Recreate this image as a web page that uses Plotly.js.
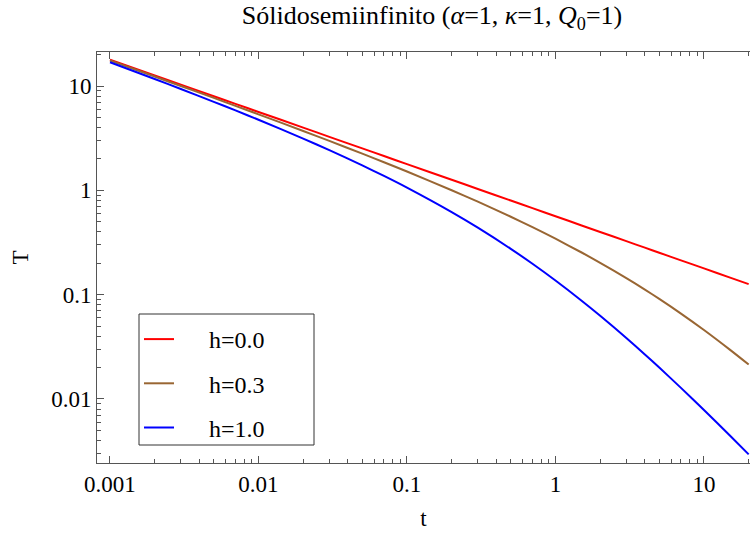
<!DOCTYPE html>
<html>
<head>
<meta charset="utf-8">
<script src="https://cdn.plot.ly/plotly-3.0.1.min.js"></script>
<style>html,body{margin:0;padding:0;background:#fff;overflow:hidden}</style>
</head>
<body>
<div id="chart" style="width:752px;height:536px"></div>
<script>
// Time values t
const tValues = [0.001, 0.002, 0.003, 0.005, 0.007, 0.01, 0.02, 0.03, 0.05, 0.07, 0.1, 0.2, 0.3, 0.5, 0.7, 1, 1.5, 2, 3, 4, 5, 7, 10, 15, 20];
// Temperature T for h = 0.0
const T_h00 = [17.841, 12.616, 10.301, 7.9789, 6.7433, 5.6419, 3.9894, 3.2574, 2.5231, 2.1324, 1.7841, 1.2616, 1.0301, 0.79789, 0.67433, 0.56419, 0.46066, 0.39894, 0.32574, 0.28210, 0.25231, 0.21324, 0.17841, 0.14567, 0.12616];
// Temperature T for h = 0.3
const T_h03 = [17.544, 12.320, 10.006, 7.6859, 6.4516, 5.3518, 3.7033, 2.9742, 2.2446, 1.8575, 1.5137, 1.0021, 0.77849, 0.55808, 0.44345, 0.34381, 0.25350, 0.20194, 0.14400, 0.11175, 0.09104, 0.06586, 0.04581, 0.02955, 0.02138];
// Temperature T for h = 1.0
const T_h10 = [16.876, 11.664, 9.3595, 7.0539, 5.8311, 4.7455, 3.1309, 2.4263, 1.7328, 1.3728, 1.0605, 0.61778, 0.43804, 0.27473, 0.19763, 0.13661, 0.08749, 0.06274, 0.03840, 0.02670, 0.01999, 0.01277, 0.00783, 0.004436, 0.002943];

const seriesNames = ["h=0.0", "h=0.3", "h=1.0"];
const seriesColors = ["#ff0000", "#996633", "#0000ff"];

const xTickVals = [0.001, 0.01, 0.1, 1, 10];
const xTickText = ["0.001", "0.01", "0.1", "1", "10"];
const yTickVals = [0.01, 0.1, 1, 10];
const yTickText = ["0.01", "0.1", "1", "10"];

function minorVals(lo, hi) {
  const out = [];
  for (let e = lo; e <= hi; e++) {
    for (let d = 2; d <= 9; d++) out.push(d * Math.pow(10, e));
  }
  return out;
}

const FONT = '"Liberation Serif", "Times New Roman", Times, serif';
const PAD = "\u00a0\u00a0\u00a0\u00a0\u00a0";
const series = [T_h00, T_h03, T_h10];
const traces = series.map((ys, i) => ({
  x: tValues, y: ys, type: "scatter", mode: "lines",
  name: PAD + seriesNames[i], legendgroup: "g" + i,
  line: {color: seriesColors[i], width: 2, shape: "spline", smoothing: 0.6}
}));

const axisCommon = {
  type: "log", showgrid: false, zeroline: false,
  showline: true, linecolor: "#555", linewidth: 1,
  ticks: "inside", ticklen: 7, tickwidth: 1, tickcolor: "#555",
  tickmode: "array",
  tickfont: {family: FONT, size: 23, color: "#000"}
};

// plot area in pixels: x 97..750, y 52..463
const PW = 653, PH = 411;
const layout = {
  width: 752, height: 536,
  margin: {l: 97, r: 2, t: 52, b: 73},
  paper_bgcolor: "#fff", plot_bgcolor: "#fff",
  font: {family: FONT, color: "#000"},
  title: {
    text: "Sólidosemiinfinito (<i>α</i>=1, <i>κ</i>=1, <i>Q</i><sub>0</sub>=1)",
    font: {family: FONT, size: 26, color: "#000"},
    x: 432 / 752, xanchor: "center", y: 0.972, yanchor: "middle"
  },
  xaxis: Object.assign({}, axisCommon, {
    range: [-3.0875, 1.310],
    tickvals: xTickVals, ticktext: xTickText,
    mirror: "allticks",
    minor: {tickmode: "array", tickvals: minorVals(-3, 1), ticks: "inside", ticklen: 4, tickcolor: "#555", showgrid: false},
    title: {text: "t", font: {family: FONT, size: 23}, standoff: 14}
  }),
  yaxis: Object.assign({}, axisCommon, {
    range: [-2.614, 1.326],
    tickvals: yTickVals, ticktext: yTickText,
    mirror: false,
    minor: {tickmode: "array", tickvals: minorVals(-3, 1), ticks: "inside", ticklen: 4, tickcolor: "#555", showgrid: false},
    title: {text: "T", font: {family: FONT, size: 23}, standoff: 16}
  }),
  showlegend: true,
  legend: {
    x: (139 - 97) / PW, y: (463 - 317) / PH, xanchor: "left", yanchor: "top",
    bgcolor: "rgba(0,0,0,0)", borderwidth: 0,
    font: {family: FONT, size: 24, color: "#000"},
    tracegroupgap: 10, traceorder: "grouped"
  },
  shapes: [{
    type: "rect", xref: "paper", yref: "paper",
    x0: (139 - 97) / PW, x1: (314 - 97) / PW,
    y0: (463 - 445) / PH, y1: (463 - 314) / PH,
    line: {color: "#333", width: 1}, fillcolor: "#fff", layer: "below"
  }]
};

Plotly.newPlot("chart", traces, layout, {displayModeBar: false, staticPlot: true});
</script>
</body>
</html>
